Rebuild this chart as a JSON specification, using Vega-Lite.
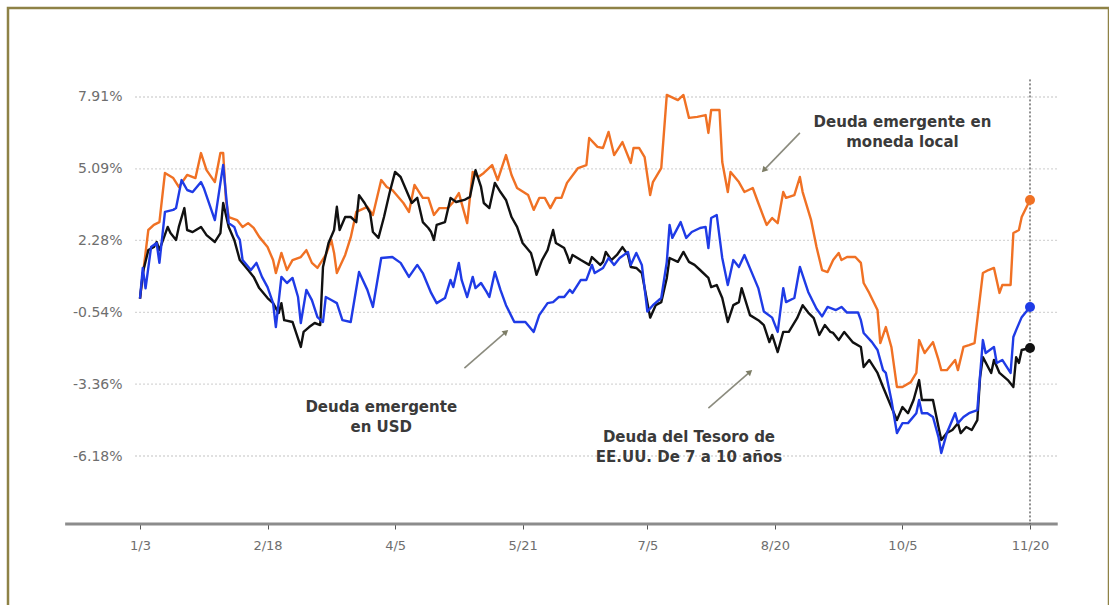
{
  "$schema": "https://vega.github.io/schema/vega-lite/v6.json",
  "width": 1101,
  "height": 610,
  "autosize": "none",
  "padding": {"left": 8, "top": 8, "right": 0, "bottom": 0},
  "background": "white",
  "config": {
    "view": {"stroke": "#8e8246", "strokeWidth": 2.5},
    "font": "DejaVu Sans",
    "axis": {"grid": false, "domain": false, "title": null}
  },
  "datasets": {
    "series": [
      {"s": "local", "d": "2023-01-03", "v": 0},
      {"s": "local", "d": "2023-01-06", "v": 2.69},
      {"s": "local", "d": "2023-01-08", "v": 2.89},
      {"s": "local", "d": "2023-01-10", "v": 3.0},
      {"s": "local", "d": "2023-01-12", "v": 4.93},
      {"s": "local", "d": "2023-01-15", "v": 4.73},
      {"s": "local", "d": "2023-01-17", "v": 4.38},
      {"s": "local", "d": "2023-01-20", "v": 4.85},
      {"s": "local", "d": "2023-01-23", "v": 4.73},
      {"s": "local", "d": "2023-01-25", "v": 5.71},
      {"s": "local", "d": "2023-01-27", "v": 5.04},
      {"s": "local", "d": "2023-01-30", "v": 4.57},
      {"s": "local", "d": "2023-02-01", "v": 5.71},
      {"s": "local", "d": "2023-02-02", "v": 5.71},
      {"s": "local", "d": "2023-02-03", "v": 3.87},
      {"s": "local", "d": "2023-02-04", "v": 3.2},
      {"s": "local", "d": "2023-02-07", "v": 3.08},
      {"s": "local", "d": "2023-02-09", "v": 2.81},
      {"s": "local", "d": "2023-02-11", "v": 2.96},
      {"s": "local", "d": "2023-02-13", "v": 2.77},
      {"s": "local", "d": "2023-02-15", "v": 2.42},
      {"s": "local", "d": "2023-02-18", "v": 2.02},
      {"s": "local", "d": "2023-02-20", "v": 1.51},
      {"s": "local", "d": "2023-02-21", "v": 1.0},
      {"s": "local", "d": "2023-02-23", "v": 1.79},
      {"s": "local", "d": "2023-02-25", "v": 1.12},
      {"s": "local", "d": "2023-02-27", "v": 1.51},
      {"s": "local", "d": "2023-03-02", "v": 1.63},
      {"s": "local", "d": "2023-03-04", "v": 1.9},
      {"s": "local", "d": "2023-03-06", "v": 1.4},
      {"s": "local", "d": "2023-03-08", "v": 1.2},
      {"s": "local", "d": "2023-03-11", "v": 1.71},
      {"s": "local", "d": "2023-03-13", "v": 2.3},
      {"s": "local", "d": "2023-03-14", "v": 1.79},
      {"s": "local", "d": "2023-03-15", "v": 1.0},
      {"s": "local", "d": "2023-03-18", "v": 1.71},
      {"s": "local", "d": "2023-03-20", "v": 2.4},
      {"s": "local", "d": "2023-03-22", "v": 3.4},
      {"s": "local", "d": "2023-03-26", "v": 3.6},
      {"s": "local", "d": "2023-03-28", "v": 3.28},
      {"s": "local", "d": "2023-03-31", "v": 4.65},
      {"s": "local", "d": "2023-04-02", "v": 4.38},
      {"s": "local", "d": "2023-04-04", "v": 4.26},
      {"s": "local", "d": "2023-04-08", "v": 3.75},
      {"s": "local", "d": "2023-04-10", "v": 3.4},
      {"s": "local", "d": "2023-04-12", "v": 4.46},
      {"s": "local", "d": "2023-04-15", "v": 3.95},
      {"s": "local", "d": "2023-04-17", "v": 3.95},
      {"s": "local", "d": "2023-04-19", "v": 3.28},
      {"s": "local", "d": "2023-04-21", "v": 3.55},
      {"s": "local", "d": "2023-04-24", "v": 3.55},
      {"s": "local", "d": "2023-04-26", "v": 3.79},
      {"s": "local", "d": "2023-04-28", "v": 4.14},
      {"s": "local", "d": "2023-05-01", "v": 2.96},
      {"s": "local", "d": "2023-05-03", "v": 4.97},
      {"s": "local", "d": "2023-05-05", "v": 4.77},
      {"s": "local", "d": "2023-05-07", "v": 4.93},
      {"s": "local", "d": "2023-05-10", "v": 5.24},
      {"s": "local", "d": "2023-05-12", "v": 4.65},
      {"s": "local", "d": "2023-05-15", "v": 5.63},
      {"s": "local", "d": "2023-05-17", "v": 4.85},
      {"s": "local", "d": "2023-05-19", "v": 4.34},
      {"s": "local", "d": "2023-05-23", "v": 4.06},
      {"s": "local", "d": "2023-05-25", "v": 3.48},
      {"s": "local", "d": "2023-05-27", "v": 3.95},
      {"s": "local", "d": "2023-05-29", "v": 3.95},
      {"s": "local", "d": "2023-05-31", "v": 3.55},
      {"s": "local", "d": "2023-06-02", "v": 3.95},
      {"s": "local", "d": "2023-06-04", "v": 3.95},
      {"s": "local", "d": "2023-06-06", "v": 4.54},
      {"s": "local", "d": "2023-06-10", "v": 5.12},
      {"s": "local", "d": "2023-06-13", "v": 5.24},
      {"s": "local", "d": "2023-06-14", "v": 6.3},
      {"s": "local", "d": "2023-06-17", "v": 5.95},
      {"s": "local", "d": "2023-06-19", "v": 5.91},
      {"s": "local", "d": "2023-06-21", "v": 6.54},
      {"s": "local", "d": "2023-06-23", "v": 5.63},
      {"s": "local", "d": "2023-06-26", "v": 6.14},
      {"s": "local", "d": "2023-06-29", "v": 5.32},
      {"s": "local", "d": "2023-06-30", "v": 5.91},
      {"s": "local", "d": "2023-07-02", "v": 5.91},
      {"s": "local", "d": "2023-07-04", "v": 5.55},
      {"s": "local", "d": "2023-07-06", "v": 4.06},
      {"s": "local", "d": "2023-07-07", "v": 4.57},
      {"s": "local", "d": "2023-07-10", "v": 5.12},
      {"s": "local", "d": "2023-07-12", "v": 7.99},
      {"s": "local", "d": "2023-07-16", "v": 7.79},
      {"s": "local", "d": "2023-07-18", "v": 7.99},
      {"s": "local", "d": "2023-07-20", "v": 7.09},
      {"s": "local", "d": "2023-07-23", "v": 7.13},
      {"s": "local", "d": "2023-07-26", "v": 7.2},
      {"s": "local", "d": "2023-07-27", "v": 6.5},
      {"s": "local", "d": "2023-07-28", "v": 7.4},
      {"s": "local", "d": "2023-07-31", "v": 7.4},
      {"s": "local", "d": "2023-08-01", "v": 5.36},
      {"s": "local", "d": "2023-08-03", "v": 4.18},
      {"s": "local", "d": "2023-08-04", "v": 4.97},
      {"s": "local", "d": "2023-08-07", "v": 4.57},
      {"s": "local", "d": "2023-08-09", "v": 4.18},
      {"s": "local", "d": "2023-08-12", "v": 4.34},
      {"s": "local", "d": "2023-08-14", "v": 3.75},
      {"s": "local", "d": "2023-08-17", "v": 2.89},
      {"s": "local", "d": "2023-08-19", "v": 3.16},
      {"s": "local", "d": "2023-08-21", "v": 2.96},
      {"s": "local", "d": "2023-08-23", "v": 4.18},
      {"s": "local", "d": "2023-08-24", "v": 3.95},
      {"s": "local", "d": "2023-08-27", "v": 4.06},
      {"s": "local", "d": "2023-08-29", "v": 4.77},
      {"s": "local", "d": "2023-08-30", "v": 4.18},
      {"s": "local", "d": "2023-09-02", "v": 3.1},
      {"s": "local", "d": "2023-09-04", "v": 2.02},
      {"s": "local", "d": "2023-09-06", "v": 1.12},
      {"s": "local", "d": "2023-09-08", "v": 1.04},
      {"s": "local", "d": "2023-09-10", "v": 1.51},
      {"s": "local", "d": "2023-09-12", "v": 1.79},
      {"s": "local", "d": "2023-09-13", "v": 1.51},
      {"s": "local", "d": "2023-09-15", "v": 1.63},
      {"s": "local", "d": "2023-09-18", "v": 1.63},
      {"s": "local", "d": "2023-09-20", "v": 1.4},
      {"s": "local", "d": "2023-09-21", "v": 0.61},
      {"s": "local", "d": "2023-09-23", "v": 0.22},
      {"s": "local", "d": "2023-09-26", "v": -0.45},
      {"s": "local", "d": "2023-09-27", "v": -1.75},
      {"s": "local", "d": "2023-09-29", "v": -1.12},
      {"s": "local", "d": "2023-10-01", "v": -1.9},
      {"s": "local", "d": "2023-10-03", "v": -3.47},
      {"s": "local", "d": "2023-10-05", "v": -3.47},
      {"s": "local", "d": "2023-10-08", "v": -3.28},
      {"s": "local", "d": "2023-10-10", "v": -2.92},
      {"s": "local", "d": "2023-10-11", "v": -1.63},
      {"s": "local", "d": "2023-10-13", "v": -2.14},
      {"s": "local", "d": "2023-10-16", "v": -1.71},
      {"s": "local", "d": "2023-10-18", "v": -2.41},
      {"s": "local", "d": "2023-10-19", "v": -2.81},
      {"s": "local", "d": "2023-10-21", "v": -2.81},
      {"s": "local", "d": "2023-10-24", "v": -2.41},
      {"s": "local", "d": "2023-10-25", "v": -2.81},
      {"s": "local", "d": "2023-10-27", "v": -1.9},
      {"s": "local", "d": "2023-10-29", "v": -1.83},
      {"s": "local", "d": "2023-10-31", "v": -1.75},
      {"s": "local", "d": "2023-11-03", "v": 1.0},
      {"s": "local", "d": "2023-11-05", "v": 1.12},
      {"s": "local", "d": "2023-11-07", "v": 1.2},
      {"s": "local", "d": "2023-11-09", "v": 0.22},
      {"s": "local", "d": "2023-11-10", "v": 0.53},
      {"s": "local", "d": "2023-11-13", "v": 0.53},
      {"s": "local", "d": "2023-11-14", "v": 2.57},
      {"s": "local", "d": "2023-11-16", "v": 2.69},
      {"s": "local", "d": "2023-11-17", "v": 3.2},
      {"s": "local", "d": "2023-11-20", "v": 3.87},

      {"s": "tesoro", "d": "2023-01-03", "v": 0},
      {"s": "tesoro", "d": "2023-01-04", "v": 1.0},
      {"s": "tesoro", "d": "2023-01-06", "v": 1.9},
      {"s": "tesoro", "d": "2023-01-08", "v": 2.02},
      {"s": "tesoro", "d": "2023-01-09", "v": 2.22},
      {"s": "tesoro", "d": "2023-01-10", "v": 1.9},
      {"s": "tesoro", "d": "2023-01-13", "v": 2.81},
      {"s": "tesoro", "d": "2023-01-14", "v": 2.57},
      {"s": "tesoro", "d": "2023-01-16", "v": 2.3},
      {"s": "tesoro", "d": "2023-01-17", "v": 2.81},
      {"s": "tesoro", "d": "2023-01-19", "v": 3.55},
      {"s": "tesoro", "d": "2023-01-20", "v": 2.69},
      {"s": "tesoro", "d": "2023-01-22", "v": 2.61},
      {"s": "tesoro", "d": "2023-01-25", "v": 2.81},
      {"s": "tesoro", "d": "2023-01-27", "v": 2.49},
      {"s": "tesoro", "d": "2023-01-30", "v": 2.22},
      {"s": "tesoro", "d": "2023-02-01", "v": 2.57},
      {"s": "tesoro", "d": "2023-02-02", "v": 3.75},
      {"s": "tesoro", "d": "2023-02-04", "v": 2.81},
      {"s": "tesoro", "d": "2023-02-06", "v": 2.3},
      {"s": "tesoro", "d": "2023-02-08", "v": 1.51},
      {"s": "tesoro", "d": "2023-02-11", "v": 1.12},
      {"s": "tesoro", "d": "2023-02-13", "v": 0.85},
      {"s": "tesoro", "d": "2023-02-15", "v": 0.41},
      {"s": "tesoro", "d": "2023-02-18", "v": 0.02},
      {"s": "tesoro", "d": "2023-02-20", "v": -0.18},
      {"s": "tesoro", "d": "2023-02-22", "v": -0.57},
      {"s": "tesoro", "d": "2023-02-23", "v": -0.18},
      {"s": "tesoro", "d": "2023-02-24", "v": -0.85},
      {"s": "tesoro", "d": "2023-02-27", "v": -0.92},
      {"s": "tesoro", "d": "2023-03-02", "v": -1.9},
      {"s": "tesoro", "d": "2023-03-03", "v": -1.31},
      {"s": "tesoro", "d": "2023-03-05", "v": -1.12},
      {"s": "tesoro", "d": "2023-03-07", "v": -0.96},
      {"s": "tesoro", "d": "2023-03-09", "v": -1.04},
      {"s": "tesoro", "d": "2023-03-10", "v": 1.24},
      {"s": "tesoro", "d": "2023-03-12", "v": 2.18},
      {"s": "tesoro", "d": "2023-03-14", "v": 2.69},
      {"s": "tesoro", "d": "2023-03-15", "v": 3.6},
      {"s": "tesoro", "d": "2023-03-16", "v": 2.69},
      {"s": "tesoro", "d": "2023-03-18", "v": 3.2},
      {"s": "tesoro", "d": "2023-03-20", "v": 3.2},
      {"s": "tesoro", "d": "2023-03-22", "v": 3.0},
      {"s": "tesoro", "d": "2023-03-23", "v": 4.06},
      {"s": "tesoro", "d": "2023-03-25", "v": 3.75},
      {"s": "tesoro", "d": "2023-03-27", "v": 3.36},
      {"s": "tesoro", "d": "2023-03-28", "v": 2.61},
      {"s": "tesoro", "d": "2023-03-30", "v": 2.38},
      {"s": "tesoro", "d": "2023-04-01", "v": 3.2},
      {"s": "tesoro", "d": "2023-04-03", "v": 4.14},
      {"s": "tesoro", "d": "2023-04-05", "v": 4.97},
      {"s": "tesoro", "d": "2023-04-07", "v": 4.77},
      {"s": "tesoro", "d": "2023-04-09", "v": 4.26},
      {"s": "tesoro", "d": "2023-04-11", "v": 3.75},
      {"s": "tesoro", "d": "2023-04-13", "v": 3.95},
      {"s": "tesoro", "d": "2023-04-15", "v": 3.0},
      {"s": "tesoro", "d": "2023-04-17", "v": 2.77},
      {"s": "tesoro", "d": "2023-04-18", "v": 2.61},
      {"s": "tesoro", "d": "2023-04-19", "v": 2.3},
      {"s": "tesoro", "d": "2023-04-20", "v": 2.89},
      {"s": "tesoro", "d": "2023-04-23", "v": 3.0},
      {"s": "tesoro", "d": "2023-04-25", "v": 3.95},
      {"s": "tesoro", "d": "2023-04-27", "v": 3.79},
      {"s": "tesoro", "d": "2023-04-30", "v": 3.87},
      {"s": "tesoro", "d": "2023-05-02", "v": 3.99},
      {"s": "tesoro", "d": "2023-05-04", "v": 5.04},
      {"s": "tesoro", "d": "2023-05-06", "v": 4.38},
      {"s": "tesoro", "d": "2023-05-07", "v": 3.75},
      {"s": "tesoro", "d": "2023-05-09", "v": 3.55},
      {"s": "tesoro", "d": "2023-05-11", "v": 4.54},
      {"s": "tesoro", "d": "2023-05-13", "v": 4.18},
      {"s": "tesoro", "d": "2023-05-15", "v": 3.87},
      {"s": "tesoro", "d": "2023-05-17", "v": 3.2},
      {"s": "tesoro", "d": "2023-05-19", "v": 2.81},
      {"s": "tesoro", "d": "2023-05-21", "v": 2.18},
      {"s": "tesoro", "d": "2023-05-24", "v": 1.79},
      {"s": "tesoro", "d": "2023-05-25", "v": 1.4},
      {"s": "tesoro", "d": "2023-05-26", "v": 0.93},
      {"s": "tesoro", "d": "2023-05-28", "v": 1.51},
      {"s": "tesoro", "d": "2023-05-30", "v": 1.9},
      {"s": "tesoro", "d": "2023-06-01", "v": 2.69},
      {"s": "tesoro", "d": "2023-06-02", "v": 2.18},
      {"s": "tesoro", "d": "2023-06-05", "v": 1.98},
      {"s": "tesoro", "d": "2023-06-06", "v": 1.71},
      {"s": "tesoro", "d": "2023-06-07", "v": 1.4},
      {"s": "tesoro", "d": "2023-06-08", "v": 1.71},
      {"s": "tesoro", "d": "2023-06-11", "v": 1.51},
      {"s": "tesoro", "d": "2023-06-14", "v": 1.32},
      {"s": "tesoro", "d": "2023-06-15", "v": 1.63},
      {"s": "tesoro", "d": "2023-06-18", "v": 1.32},
      {"s": "tesoro", "d": "2023-06-19", "v": 1.44},
      {"s": "tesoro", "d": "2023-06-20", "v": 1.83},
      {"s": "tesoro", "d": "2023-06-22", "v": 1.51},
      {"s": "tesoro", "d": "2023-06-24", "v": 1.71},
      {"s": "tesoro", "d": "2023-06-26", "v": 2.02},
      {"s": "tesoro", "d": "2023-06-28", "v": 1.71},
      {"s": "tesoro", "d": "2023-06-29", "v": 1.24},
      {"s": "tesoro", "d": "2023-07-01", "v": 1.2},
      {"s": "tesoro", "d": "2023-07-03", "v": 1.0},
      {"s": "tesoro", "d": "2023-07-06", "v": -0.75},
      {"s": "tesoro", "d": "2023-07-08", "v": -0.26},
      {"s": "tesoro", "d": "2023-07-10", "v": -0.14},
      {"s": "tesoro", "d": "2023-07-12", "v": 0.81},
      {"s": "tesoro", "d": "2023-07-13", "v": 1.59},
      {"s": "tesoro", "d": "2023-07-16", "v": 1.44},
      {"s": "tesoro", "d": "2023-07-18", "v": 1.83},
      {"s": "tesoro", "d": "2023-07-20", "v": 1.44},
      {"s": "tesoro", "d": "2023-07-22", "v": 1.32},
      {"s": "tesoro", "d": "2023-07-24", "v": 1.12},
      {"s": "tesoro", "d": "2023-07-27", "v": 0.81},
      {"s": "tesoro", "d": "2023-07-28", "v": 0.45},
      {"s": "tesoro", "d": "2023-07-30", "v": 0.53},
      {"s": "tesoro", "d": "2023-08-01", "v": 0.02},
      {"s": "tesoro", "d": "2023-08-03", "v": -0.92},
      {"s": "tesoro", "d": "2023-08-05", "v": -0.26},
      {"s": "tesoro", "d": "2023-08-07", "v": -0.14},
      {"s": "tesoro", "d": "2023-08-08", "v": 0.41},
      {"s": "tesoro", "d": "2023-08-11", "v": -0.65},
      {"s": "tesoro", "d": "2023-08-14", "v": -0.85},
      {"s": "tesoro", "d": "2023-08-16", "v": -1.04},
      {"s": "tesoro", "d": "2023-08-18", "v": -1.71},
      {"s": "tesoro", "d": "2023-08-19", "v": -1.43},
      {"s": "tesoro", "d": "2023-08-21", "v": -2.1},
      {"s": "tesoro", "d": "2023-08-23", "v": -1.31},
      {"s": "tesoro", "d": "2023-08-25", "v": -1.31},
      {"s": "tesoro", "d": "2023-08-28", "v": -0.77},
      {"s": "tesoro", "d": "2023-08-30", "v": -0.26},
      {"s": "tesoro", "d": "2023-09-01", "v": -0.55},
      {"s": "tesoro", "d": "2023-09-03", "v": -0.77},
      {"s": "tesoro", "d": "2023-09-05", "v": -1.43},
      {"s": "tesoro", "d": "2023-09-07", "v": -1.04},
      {"s": "tesoro", "d": "2023-09-09", "v": -1.31},
      {"s": "tesoro", "d": "2023-09-10", "v": -1.35},
      {"s": "tesoro", "d": "2023-09-12", "v": -1.63},
      {"s": "tesoro", "d": "2023-09-14", "v": -1.31},
      {"s": "tesoro", "d": "2023-09-17", "v": -1.71},
      {"s": "tesoro", "d": "2023-09-20", "v": -1.9},
      {"s": "tesoro", "d": "2023-09-21", "v": -2.69},
      {"s": "tesoro", "d": "2023-09-23", "v": -2.41},
      {"s": "tesoro", "d": "2023-09-26", "v": -2.92},
      {"s": "tesoro", "d": "2023-09-28", "v": -3.47},
      {"s": "tesoro", "d": "2023-10-01", "v": -4.26},
      {"s": "tesoro", "d": "2023-10-03", "v": -4.77},
      {"s": "tesoro", "d": "2023-10-05", "v": -4.26},
      {"s": "tesoro", "d": "2023-10-07", "v": -4.5},
      {"s": "tesoro", "d": "2023-10-09", "v": -3.98},
      {"s": "tesoro", "d": "2023-10-11", "v": -3.2},
      {"s": "tesoro", "d": "2023-10-12", "v": -3.98},
      {"s": "tesoro", "d": "2023-10-14", "v": -3.98},
      {"s": "tesoro", "d": "2023-10-16", "v": -3.98},
      {"s": "tesoro", "d": "2023-10-18", "v": -5.04},
      {"s": "tesoro", "d": "2023-10-19", "v": -5.55},
      {"s": "tesoro", "d": "2023-10-21", "v": -5.28},
      {"s": "tesoro", "d": "2023-10-23", "v": -5.16},
      {"s": "tesoro", "d": "2023-10-25", "v": -4.89},
      {"s": "tesoro", "d": "2023-10-26", "v": -5.28},
      {"s": "tesoro", "d": "2023-10-28", "v": -5.04},
      {"s": "tesoro", "d": "2023-10-30", "v": -5.16},
      {"s": "tesoro", "d": "2023-11-01", "v": -4.77},
      {"s": "tesoro", "d": "2023-11-02", "v": -3.08},
      {"s": "tesoro", "d": "2023-11-03", "v": -2.3},
      {"s": "tesoro", "d": "2023-11-06", "v": -2.92},
      {"s": "tesoro", "d": "2023-11-07", "v": -2.41},
      {"s": "tesoro", "d": "2023-11-09", "v": -2.92},
      {"s": "tesoro", "d": "2023-11-12", "v": -3.2},
      {"s": "tesoro", "d": "2023-11-14", "v": -3.47},
      {"s": "tesoro", "d": "2023-11-15", "v": -2.3},
      {"s": "tesoro", "d": "2023-11-16", "v": -2.53},
      {"s": "tesoro", "d": "2023-11-17", "v": -2.02},
      {"s": "tesoro", "d": "2023-11-20", "v": -1.94},

      {"s": "usd", "d": "2023-01-03", "v": 0},
      {"s": "usd", "d": "2023-01-04", "v": 1.2},
      {"s": "usd", "d": "2023-01-05", "v": 0.4},
      {"s": "usd", "d": "2023-01-07", "v": 2.02},
      {"s": "usd", "d": "2023-01-09", "v": 2.18},
      {"s": "usd", "d": "2023-01-10", "v": 1.4},
      {"s": "usd", "d": "2023-01-12", "v": 3.4},
      {"s": "usd", "d": "2023-01-15", "v": 3.48},
      {"s": "usd", "d": "2023-01-16", "v": 3.55},
      {"s": "usd", "d": "2023-01-18", "v": 4.65},
      {"s": "usd", "d": "2023-01-20", "v": 4.26},
      {"s": "usd", "d": "2023-01-22", "v": 4.18},
      {"s": "usd", "d": "2023-01-25", "v": 4.57},
      {"s": "usd", "d": "2023-01-26", "v": 4.34},
      {"s": "usd", "d": "2023-01-30", "v": 3.08},
      {"s": "usd", "d": "2023-02-01", "v": 4.54},
      {"s": "usd", "d": "2023-02-02", "v": 5.24},
      {"s": "usd", "d": "2023-02-04", "v": 2.96},
      {"s": "usd", "d": "2023-02-06", "v": 2.81},
      {"s": "usd", "d": "2023-02-07", "v": 2.49},
      {"s": "usd", "d": "2023-02-08", "v": 2.3},
      {"s": "usd", "d": "2023-02-09", "v": 1.51},
      {"s": "usd", "d": "2023-02-12", "v": 1.12},
      {"s": "usd", "d": "2023-02-14", "v": 1.4},
      {"s": "usd", "d": "2023-02-16", "v": 0.85},
      {"s": "usd", "d": "2023-02-18", "v": 0.45},
      {"s": "usd", "d": "2023-02-20", "v": -0.18},
      {"s": "usd", "d": "2023-02-21", "v": -1.12},
      {"s": "usd", "d": "2023-02-23", "v": 0.85},
      {"s": "usd", "d": "2023-02-25", "v": 0.61},
      {"s": "usd", "d": "2023-02-27", "v": 0.81},
      {"s": "usd", "d": "2023-03-01", "v": 0.06},
      {"s": "usd", "d": "2023-03-02", "v": -0.96},
      {"s": "usd", "d": "2023-03-04", "v": 0.34},
      {"s": "usd", "d": "2023-03-06", "v": -0.06},
      {"s": "usd", "d": "2023-03-08", "v": -0.73},
      {"s": "usd", "d": "2023-03-10", "v": -0.92},
      {"s": "usd", "d": "2023-03-11", "v": 0.06},
      {"s": "usd", "d": "2023-03-13", "v": -0.06},
      {"s": "usd", "d": "2023-03-15", "v": -0.18},
      {"s": "usd", "d": "2023-03-17", "v": -0.85},
      {"s": "usd", "d": "2023-03-20", "v": -0.92},
      {"s": "usd", "d": "2023-03-23", "v": 1.04},
      {"s": "usd", "d": "2023-03-26", "v": 0.34},
      {"s": "usd", "d": "2023-03-28", "v": -0.33},
      {"s": "usd", "d": "2023-03-31", "v": 1.59},
      {"s": "usd", "d": "2023-04-04", "v": 1.63},
      {"s": "usd", "d": "2023-04-07", "v": 1.4},
      {"s": "usd", "d": "2023-04-10", "v": 0.85},
      {"s": "usd", "d": "2023-04-13", "v": 1.32},
      {"s": "usd", "d": "2023-04-15", "v": 1.0},
      {"s": "usd", "d": "2023-04-18", "v": 0.22},
      {"s": "usd", "d": "2023-04-20", "v": -0.18},
      {"s": "usd", "d": "2023-04-23", "v": 0.02},
      {"s": "usd", "d": "2023-04-25", "v": 0.73},
      {"s": "usd", "d": "2023-04-26", "v": 0.45},
      {"s": "usd", "d": "2023-04-28", "v": 1.4},
      {"s": "usd", "d": "2023-04-29", "v": 0.73},
      {"s": "usd", "d": "2023-05-01", "v": 0.06},
      {"s": "usd", "d": "2023-05-03", "v": 0.85},
      {"s": "usd", "d": "2023-05-04", "v": 0.41},
      {"s": "usd", "d": "2023-05-06", "v": 0.61},
      {"s": "usd", "d": "2023-05-08", "v": 0.26},
      {"s": "usd", "d": "2023-05-09", "v": 0.06},
      {"s": "usd", "d": "2023-05-11", "v": 1.04},
      {"s": "usd", "d": "2023-05-13", "v": 0.34},
      {"s": "usd", "d": "2023-05-15", "v": -0.26},
      {"s": "usd", "d": "2023-05-18", "v": -0.92},
      {"s": "usd", "d": "2023-05-22", "v": -0.92},
      {"s": "usd", "d": "2023-05-25", "v": -1.31},
      {"s": "usd", "d": "2023-05-27", "v": -0.65},
      {"s": "usd", "d": "2023-05-30", "v": -0.18},
      {"s": "usd", "d": "2023-06-01", "v": -0.14},
      {"s": "usd", "d": "2023-06-03", "v": 0.06},
      {"s": "usd", "d": "2023-06-05", "v": 0.06},
      {"s": "usd", "d": "2023-06-07", "v": 0.34},
      {"s": "usd", "d": "2023-06-08", "v": 0.22},
      {"s": "usd", "d": "2023-06-11", "v": 0.73},
      {"s": "usd", "d": "2023-06-13", "v": 0.73},
      {"s": "usd", "d": "2023-06-15", "v": 1.32},
      {"s": "usd", "d": "2023-06-16", "v": 1.0},
      {"s": "usd", "d": "2023-06-19", "v": 1.2},
      {"s": "usd", "d": "2023-06-21", "v": 1.59},
      {"s": "usd", "d": "2023-06-23", "v": 1.32},
      {"s": "usd", "d": "2023-06-25", "v": 1.59},
      {"s": "usd", "d": "2023-06-28", "v": 1.83},
      {"s": "usd", "d": "2023-06-29", "v": 1.32},
      {"s": "usd", "d": "2023-07-01", "v": 1.79},
      {"s": "usd", "d": "2023-07-03", "v": 1.32},
      {"s": "usd", "d": "2023-07-05", "v": -0.51},
      {"s": "usd", "d": "2023-07-07", "v": -0.26},
      {"s": "usd", "d": "2023-07-10", "v": 0.02},
      {"s": "usd", "d": "2023-07-12", "v": 1.44},
      {"s": "usd", "d": "2023-07-13", "v": 2.89},
      {"s": "usd", "d": "2023-07-14", "v": 2.38},
      {"s": "usd", "d": "2023-07-17", "v": 3.0},
      {"s": "usd", "d": "2023-07-19", "v": 2.38},
      {"s": "usd", "d": "2023-07-21", "v": 2.61},
      {"s": "usd", "d": "2023-07-24", "v": 2.77},
      {"s": "usd", "d": "2023-07-26", "v": 2.81},
      {"s": "usd", "d": "2023-07-27", "v": 1.98},
      {"s": "usd", "d": "2023-07-28", "v": 3.16},
      {"s": "usd", "d": "2023-07-30", "v": 3.28},
      {"s": "usd", "d": "2023-08-01", "v": 1.59},
      {"s": "usd", "d": "2023-08-03", "v": 0.53},
      {"s": "usd", "d": "2023-08-05", "v": 1.51},
      {"s": "usd", "d": "2023-08-07", "v": 1.24},
      {"s": "usd", "d": "2023-08-09", "v": 1.71},
      {"s": "usd", "d": "2023-08-12", "v": 0.93},
      {"s": "usd", "d": "2023-08-14", "v": 0.41},
      {"s": "usd", "d": "2023-08-16", "v": -0.51},
      {"s": "usd", "d": "2023-08-19", "v": -0.75},
      {"s": "usd", "d": "2023-08-21", "v": -1.31},
      {"s": "usd", "d": "2023-08-23", "v": 0.41},
      {"s": "usd", "d": "2023-08-24", "v": -0.14},
      {"s": "usd", "d": "2023-08-27", "v": 0.02},
      {"s": "usd", "d": "2023-08-29", "v": 1.24},
      {"s": "usd", "d": "2023-09-01", "v": 0.26},
      {"s": "usd", "d": "2023-09-04", "v": -0.4},
      {"s": "usd", "d": "2023-09-06", "v": -0.7},
      {"s": "usd", "d": "2023-09-08", "v": -0.33},
      {"s": "usd", "d": "2023-09-11", "v": -0.45},
      {"s": "usd", "d": "2023-09-13", "v": -0.33},
      {"s": "usd", "d": "2023-09-15", "v": -0.55},
      {"s": "usd", "d": "2023-09-19", "v": -0.55},
      {"s": "usd", "d": "2023-09-20", "v": -0.85},
      {"s": "usd", "d": "2023-09-21", "v": -1.35},
      {"s": "usd", "d": "2023-09-24", "v": -1.71},
      {"s": "usd", "d": "2023-09-26", "v": -2.02},
      {"s": "usd", "d": "2023-09-28", "v": -2.81},
      {"s": "usd", "d": "2023-09-29", "v": -2.92},
      {"s": "usd", "d": "2023-10-01", "v": -3.98},
      {"s": "usd", "d": "2023-10-03", "v": -5.28},
      {"s": "usd", "d": "2023-10-05", "v": -4.89},
      {"s": "usd", "d": "2023-10-07", "v": -4.89},
      {"s": "usd", "d": "2023-10-10", "v": -4.5},
      {"s": "usd", "d": "2023-10-11", "v": -3.98},
      {"s": "usd", "d": "2023-10-12", "v": -4.5},
      {"s": "usd", "d": "2023-10-14", "v": -4.5},
      {"s": "usd", "d": "2023-10-16", "v": -4.65},
      {"s": "usd", "d": "2023-10-18", "v": -5.44},
      {"s": "usd", "d": "2023-10-19", "v": -6.06},
      {"s": "usd", "d": "2023-10-21", "v": -5.28},
      {"s": "usd", "d": "2023-10-24", "v": -4.5},
      {"s": "usd", "d": "2023-10-25", "v": -4.89},
      {"s": "usd", "d": "2023-10-27", "v": -4.65},
      {"s": "usd", "d": "2023-10-29", "v": -4.5},
      {"s": "usd", "d": "2023-11-01", "v": -4.38},
      {"s": "usd", "d": "2023-11-03", "v": -1.63},
      {"s": "usd", "d": "2023-11-04", "v": -2.14},
      {"s": "usd", "d": "2023-11-07", "v": -1.9},
      {"s": "usd", "d": "2023-11-08", "v": -2.53},
      {"s": "usd", "d": "2023-11-10", "v": -2.41},
      {"s": "usd", "d": "2023-11-13", "v": -2.92},
      {"s": "usd", "d": "2023-11-14", "v": -1.51},
      {"s": "usd", "d": "2023-11-15", "v": -1.24},
      {"s": "usd", "d": "2023-11-17", "v": -0.73},
      {"s": "usd", "d": "2023-11-20", "v": -0.33}
    ],
    "grid": [
      {"v": 7.91}, {"v": 5.09}, {"v": 2.28}, {"v": -0.54}, {"v": -3.36}, {"v": -6.18}
    ],
    "labels": [
      {"t": "Deuda emergente en\nmoneda local", "d": "2023-10-05", "v": 6.93},
      {"t": "Deuda emergente\nen USD", "d": "2023-03-31", "v": -4.26},
      {"t": "Deuda del Tesoro de\nEE.UU. De 7 a 10 años", "d": "2023-07-20", "v": -5.43}
    ],
    "arrows": [
      {"id": "local", "d1": "2023-08-29", "v1": 6.5, "d2": "2023-08-16", "v2": 5.04},
      {"id": "usd", "d1": "2023-04-30", "v1": -2.73, "d2": "2023-05-15", "v2": -1.31},
      {"id": "tesoro", "d1": "2023-07-27", "v1": -4.3, "d2": "2023-08-11", "v2": -2.88}
    ]
  },
  "layer": [
    {
      "data": {"name": "grid"},
      "mark": {"type": "rule", "color": "#d6d6d6", "strokeWidth": 1.3, "strokeDash": [2, 2]},
      "encoding": {
        "y": {"field": "v", "type": "quantitative", "title": null,
          "scale": {"domain": [-12.538, 11.403], "nice": false, "zero": false}},
        "x": {"datum": {"year": 2023, "month": 1, "date": 1, "hours": 5, "utc": true}, "type": "temporal", "title": null,
          "scale": {"type": "utc", "domain": [
            {"year": 2022, "month": 11, "date": 16, "hours": 9, "minutes": 22, "utc": true},
            {"year": 2023, "month": 12, "date": 18, "hours": 11, "minutes": 46, "utc": true}]}},
        "x2": {"datum": {"year": 2023, "month": 11, "date": 30, "utc": true}}
      }
    },
    {
      "data": {"values": [{}]},
      "mark": {"type": "rule", "color": "#8c8c8c", "strokeWidth": 3},
      "encoding": {
        "y": {"datum": -8.85, "type": "quantitative", "title": null},
        "x": {"datum": {"year": 2022, "month": 12, "date": 7, "utc": true}, "type": "temporal", "title": null},
        "x2": {"datum": {"year": 2023, "month": 11, "date": 30, "utc": true}}
      }
    },
    {
      "data": {"values": [{}]},
      "mark": {"type": "rule", "color": "#222222", "strokeWidth": 1, "strokeDash": [2, 2]},
      "encoding": {
        "x": {"datum": {"year": 2023, "month": 11, "date": 20, "utc": true}, "type": "temporal", "title": null},
        "y": {"datum": 8.6, "type": "quantitative", "title": null},
        "y2": {"datum": -8.85}
      }
    },
    {
      "data": {"name": "arrows"},
      "mark": {"type": "rule", "color": "#8b8b7e", "strokeWidth": 1.6},
      "encoding": {
        "x": {"field": "d1", "type": "temporal", "title": null},
        "y": {"field": "v1", "type": "quantitative", "title": null},
        "x2": {"field": "d2"},
        "y2": {"field": "v2"}
      }
    },
    {
      "data": {"name": "arrows"},
      "transform": [{"filter": "datum.id == 'local'"}],
      "mark": {"type": "point", "shape": "triangle-up", "filled": true, "size": 45, "angle": 223, "color": "#7d7d66", "opacity": 1},
      "encoding": {
        "x": {"field": "d2", "type": "temporal", "title": null},
        "y": {"field": "v2", "type": "quantitative", "title": null}
      }
    },
    {
      "data": {"name": "arrows"},
      "transform": [{"filter": "datum.id != 'local'"}],
      "mark": {"type": "point", "shape": "triangle-up", "filled": true, "size": 45, "angle": 49, "color": "#7d7d66", "opacity": 1},
      "encoding": {
        "x": {"field": "d2", "type": "temporal", "title": null},
        "y": {"field": "v2", "type": "quantitative", "title": null}
      }
    },
    {
      "data": {"name": "series"},
      "mark": {"type": "line", "strokeWidth": 2.4, "strokeJoin": "round"},
      "encoding": {
        "x": {"field": "d", "type": "temporal", "title": null,
          "axis": {"orient": "bottom", "offset": -94, "domain": false, "grid": false, "title": null,
            "values": [
              {"year": 2023, "month": 1, "date": 3, "utc": true},
              {"year": 2023, "month": 2, "date": 18, "utc": true},
              {"year": 2023, "month": 4, "date": 5, "utc": true},
              {"year": 2023, "month": 5, "date": 21, "utc": true},
              {"year": 2023, "month": 7, "date": 5, "utc": true},
              {"year": 2023, "month": 8, "date": 20, "utc": true},
              {"year": 2023, "month": 10, "date": 5, "utc": true},
              {"year": 2023, "month": 11, "date": 20, "utc": true}],
            "labelExpr": "utcFormat(datum.value, '%-m/%-d')",
            "tickSize": 5, "tickColor": "#555555", "tickWidth": 1,
            "labelPadding": 10, "labelFont": "DejaVu Sans", "labelFontSize": 13, "labelColor": "#6e6e6e",
            "labelFlush": false, "labelOverlap": false}},
        "y": {"field": "v", "type": "quantitative", "title": null,
          "axis": {"orient": "left", "offset": -114, "domain": false, "ticks": false, "grid": false, "title": null,
            "values": [7.91, 5.09, 2.28, -0.54, -3.36, -6.18],
            "labelExpr": "(datum.value < 0 ? '-' : '') + format(abs(datum.value), '.2f') + '%'",
            "labelPadding": 0, "labelFont": "DejaVu Sans", "labelFontSize": 14, "labelColor": "#6e6e6e"}},
        "color": {"field": "s", "type": "nominal", "legend": null,
          "scale": {"domain": ["local", "tesoro", "usd"], "range": ["#f07124", "#111111", "#1f3be6"]}}
      }
    },
    {
      "data": {"name": "series"},
      "transform": [{"filter": {"field": "d", "equal": {"year": 2023, "month": 11, "date": 20, "utc": true}}}],
      "mark": {"type": "point", "filled": true, "size": 100, "opacity": 1},
      "encoding": {
        "x": {"field": "d", "type": "temporal", "title": null},
        "y": {"field": "v", "type": "quantitative", "title": null},
        "color": {"field": "s", "type": "nominal", "legend": null}
      }
    },
    {
      "data": {"name": "labels"},
      "mark": {"type": "text", "align": "center", "baseline": "middle", "lineBreak": "\n", "lineHeight": 20,
        "font": "DejaVu Sans", "fontSize": 15, "fontWeight": "bold", "color": "#3a3a3a"},
      "encoding": {
        "x": {"field": "d", "type": "temporal", "title": null},
        "y": {"field": "v", "type": "quantitative", "title": null},
        "text": {"field": "t"}
      }
    }
  ]
}
